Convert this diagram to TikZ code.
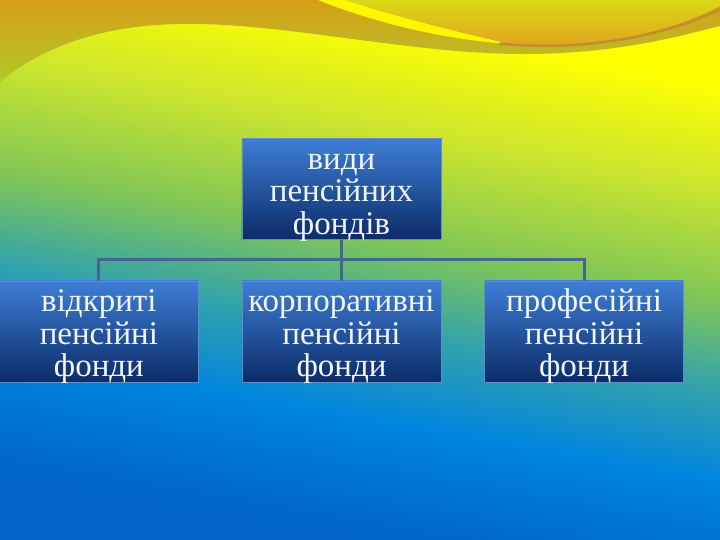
\documentclass[tikz,border=0pt]{standalone}
\usepackage{fontspec}
\setmainfont{Liberation Serif}
\usepackage{tikz}
\usetikzlibrary{matrix}

\definecolor{bgdeep}{RGB}{0,100,200}
\definecolor{bgblue}{RGB}{0,132,222}
\definecolor{bgteal}{RGB}{50,162,172}
\definecolor{bggreen}{RGB}{128,198,86}
\definecolor{bglime}{RGB}{205,230,45}
\definecolor{bgyellow}{RGB}{255,255,0}
\definecolor{bandtop}{RGB}{212,160,24}
\definecolor{bandlow}{RGB}{178,200,42}
\definecolor{blobtop}{RGB}{218,216,22}
\definecolor{bloblow}{RGB}{226,160,30}
\definecolor{blobedge}{RGB}{196,140,44}
\definecolor{boxtop}{RGB}{62,126,214}
\definecolor{boxlow}{RGB}{12,44,104}
\definecolor{boxrim}{RGB}{100,140,200}
\definecolor{linkblue}{RGB}{66,102,146}

\pgfdeclareverticalshading{bgfade}{100bp}{color(0bp)=(bgdeep); color(27bp)=(bgdeep);
  color(37bp)=(bgblue); color(45bp)=(bgteal); color(53bp)=(bggreen);
  color(63bp)=(bglime); color(72bp)=(bgyellow); color(100bp)=(bgyellow)}

\begin{document}
\begin{tikzpicture}[x=1pt, y=-1pt,
  fund/.style={shade, top color=boxtop, bottom color=boxlow, draw=boxrim, line width=0.6pt,
    minimum width=199pt, text height=31pt, text depth=70pt, text width=197pt, inner sep=0pt,
    align=center, text={rgb,255:red,242;green,246;blue,255},
    font=\fontsize{33}{32.5}\selectfont},
  link/.style={draw=linkblue, line width=3pt}]
\useasboundingbox (0,0) rectangle (720,540);
% background
\shade[shading=bgfade, shading angle=-10] (0,0) rectangle (720,540);
\shade[top color=bandtop, bottom color=bandlow]
  (0,82) .. controls (50,40) and (120,22) .. (200,24)
  .. controls (300,26) and (420,55) .. (530,54)
  .. controls (620,53) and (680,36) .. (720,26) -- (720,0) -- (0,0) -- cycle;
\fill[bgyellow!94!orange] (318,0) .. controls (380,25) and (450,40) .. (510,44)
  .. controls (450,30) and (390,15) .. (346,0) -- cycle;
\shade[top color=blobtop, bottom color=bloblow] (346,0) .. controls (390,15) and (450,30) .. (510,44)
  .. controls (580,50) and (665,35) .. (720,6) -- (720,0) -- cycle;
\draw[blobedge, line width=2.5pt] (500,43.5) .. controls (580,52) and (665,37) .. (722,8);

\matrix(m)[matrix of nodes, nodes=fund, row sep=41pt, column sep=43pt] at (341.5,260) {
 & {види\\пенсійних\\фондів} & \\
{відкриті\\пенсійні\\фонди} & {корпоративні\\пенсійні\\фонди} & {професійні\\пенсійні\\фонди} \\
};
\draw[link] (m-1-2.south) -- (m-2-2.north);
\draw[link] (m-1-2.south) -- ++(0,20) -| (m-2-1.north);
\draw[link] (m-1-2.south) -- ++(0,20) -| (m-2-3.north);
\end{tikzpicture}
\end{document}
